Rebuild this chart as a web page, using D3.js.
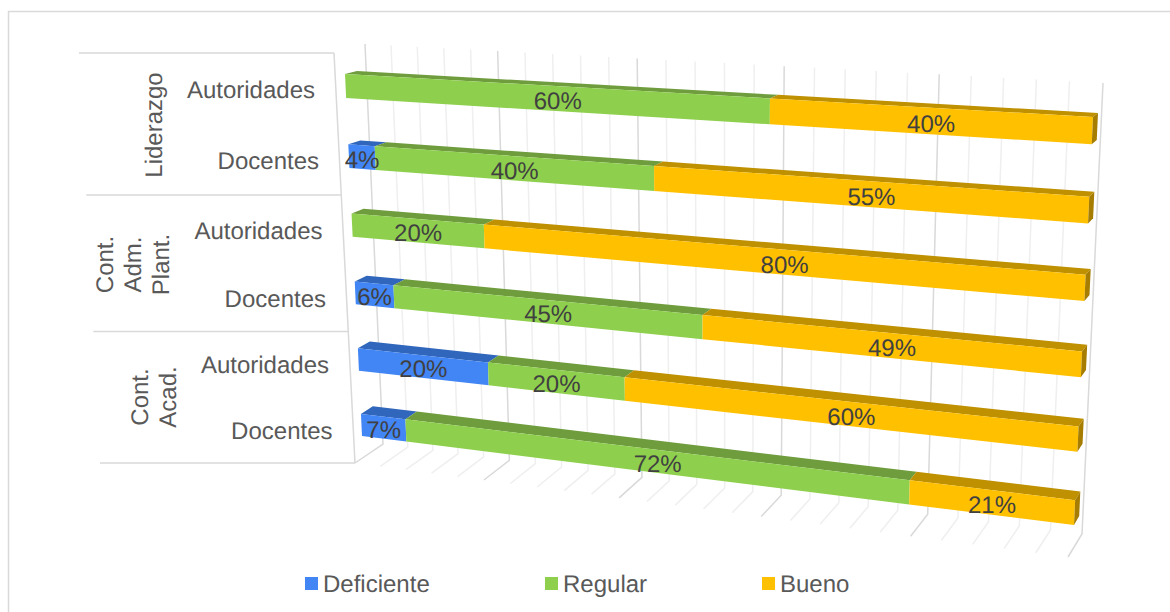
<!DOCTYPE html>
<html lang="es">
<head>
<meta charset="utf-8">
<title>Deficiente, Regular, Bueno</title>
<script src="https://cdnjs.cloudflare.com/ajax/libs/d3/7.8.5/d3.min.js"></script>
<style>
  html, body { margin: 0; padding: 0; background: #fff; }
  svg { display: block; }
  text { font-family: "Liberation Sans", Arial, sans-serif; text-rendering: geometricPrecision; }
</style>
</head>
<body>
<svg id="chart" width="1170" height="612"></svg>
<script>
// Survey results per group and respondent type, top row first.
const categories = ["Autoridades", "Docentes", "Autoridades", "Docentes", "Autoridades", "Docentes"];
const groups = [
  { lines: ["Liderazgo"], from: 0, to: 2 },
  { lines: ["Cont.", "Adm.", "Plant."], from: 2, to: 4 },
  { lines: ["Cont.", "Acad."], from: 4, to: 6 }
];
const seriesNames = ["Deficiente", "Regular", "Bueno"];
const deficiente = [0, 4, 0, 6, 20, 7];
const regular = [60, 40, 20, 45, 20, 72];
const bueno = [40, 55, 80, 49, 60, 21];
const axisTicks = [0, 4, 8, 12, 16, 20, 24, 28, 32, 36, 40, 44, 48, 52, 56, 60, 64, 68, 72, 76, 80, 84, 88, 92, 96, 100];
const majorTicks = [0, 20, 40, 60, 80, 100];

// Fill colours for the front, top and right-hand faces of each series.
const frontColor = ["#4285f4", "#8ed04d", "#ffc000"];
const topColor = ["#3066bb", "#6f9d3d", "#bf9000"];
const sideColor = ["#2b5ca8", "#648d36", "#a67d00"];
const gridMinor = "#efefef";
const gridMajor = "#d9d9d9";

// Projects the unit square (u along the value axis, v down the rows) onto a quad.
function quadProjection([x0, y0], [x1, y1], [x2, y2], [x3, y3]) {
  // Corners in order: u0v0, u1v0, u1v1, u0v1.
  const dx1 = x1 - x2, dx2 = x3 - x2, sx = x0 - x1 + x2 - x3;
  const dy1 = y1 - y2, dy2 = y3 - y2, sy = y0 - y1 + y2 - y3;
  const den = dx1 * dy2 - dx2 * dy1;
  const g = (sx * dy2 - dx2 * sy) / den;
  const h = (dx1 * sy - sx * dy1) / den;
  const a = x1 - x0 + g * x1, b = x3 - x0 + h * x3, c = x0;
  const d = y1 - y0 + g * y1, e = y3 - y0 + h * y3, f = y0;
  return (u, v) => {
    const w = g * u + h * v + 1;
    return [(a * u + b * v + c) / w, (d * u + e * v + f) / w];
  };
}

const frontPlane = quadProjection([345, 74], [1093, 117], [1074, 525], [362, 436]);
const backWall = quadProjection([365, 44], [1103, 83], [1082, 534], [383, 444]);
// The floor's near edge shares the wall's foreshortening along the value axis.
const floorFront = u => {
  const s = (backWall(u, 1)[0] - 383) / (1082 - 383);
  return [355 + (1068 - 355) * s, 463 + (557 - 463) * s];
};

const rowIndex = d3.range(categories.length);
const xScale = d3.scaleLinear().domain([0, 1]).range([0, 1]);
const tickScale = d3.scaleLinear().domain([0, 100]).range([0, 1]);
const rowScale = d3.scaleBand().domain(rowIndex).range([0, 1]).paddingInner(0.66).paddingOuter(0);

// Each row is stacked to a full 100% width.
const table = rowIndex.map(i => ({ Deficiente: deficiente[i], Regular: regular[i], Bueno: bueno[i] }));
const stacked = d3.stack().keys(seriesNames).offset(d3.stackOffsetExpand)(table);

const svg = d3.select("#chart");

// Chart frame: only its top and left edges fall inside the page.
svg.append("path")
  .attr("d", "M8.5,612V11.5H1170")
  .attr("fill", "none").attr("stroke", gridMajor).attr("stroke-width", 1.5);

// Wall and floor gridlines.
const pathLine = d3.line();
const gridLayer = svg.append("g");
gridLayer.selectAll("path")
  .data(axisTicks.slice().sort((a, b) => majorTicks.includes(a) - majorTicks.includes(b)))
  .join("path")
  .attr("d", t => {
    const u = tickScale(t);
    return pathLine([backWall(u, 0), backWall(u, 1), floorFront(u)]);
  })
  .attr("fill", "none")
  .attr("stroke", t => majorTicks.includes(t) ? gridMajor : gridMinor)
  .attr("stroke-width", 1.5);

// Depth of a bar: the offset from its front face to its back edge.
function depth(u, v) {
  const sx = frontPlane(u, v)[0];
  const along = (sx - 345) / (1093 - 345);
  return [12 - 7 * along, -3 - 5 * v - along];
}
const back = (u, v) => {
  const p = frontPlane(u, v), o = depth(u, v);
  return [p[0] + o[0], p[1] + o[1]];
};
const polygon = pts => pathLine(pts) + "Z";

// Bars, each row built from top, front and closing side faces.
const barLayer = svg.append("g");
const labels = [];
rowIndex.forEach(row => {
  const v0 = rowScale(row), v1 = v0 + rowScale.bandwidth();
  const rowG = barLayer.append("g");
  stacked.forEach((layer, s) => {
    const [a, b] = layer[row];
    if (b - a <= 0) return;
    const u0 = xScale(a), u1 = xScale(b);
    rowG.append("path")
      .attr("d", polygon([frontPlane(u0, v0), frontPlane(u1, v0), back(u1, v0), back(u0, v0)]))
      .attr("fill", topColor[s]);
    rowG.append("path")
      .attr("d", polygon([frontPlane(u0, v0), frontPlane(u1, v0), frontPlane(u1, v1), frontPlane(u0, v1)]))
      .attr("fill", frontColor[s]);
    if (b >= 1) {
      rowG.append("path")
        .attr("d", polygon([frontPlane(u1, v0), back(u1, v0), back(u1, v1), frontPlane(u1, v1)]))
        .attr("fill", sideColor[s]);
    }
    const corners = [frontPlane(u0, v0), frontPlane(u1, v0), frontPlane(u1, v1), frontPlane(u0, v1)];
    labels.push({
      x: d3.mean(corners, p => p[0]),
      y: d3.mean(corners, p => p[1]),
      value: table[row][seriesNames[s]]
    });
  });
});

// Percentage labels, centred on their front faces.
svg.append("g").selectAll("text")
  .data(labels)
  .join("text")
  .attr("x", d => d.x)
  .attr("y", d => d.y + 10.5)
  .attr("text-anchor", "middle")
  .attr("font-size", 24)
  .attr("fill", "#404040")
  .text(d => d.value + "%");

// Category axis: slanted spine, group separators and multi-level labels.
const axisTop = [334, 53], axisBottom = [355, 463];
const separatorY = d3.scaleLinear().domain([0, 2, 4, 6]).range([53, 195, 331.5, 463]);
const spineX = y => axisTop[0] + (axisBottom[0] - axisTop[0]) * (y - axisTop[1]) / (axisBottom[1] - axisTop[1]);
const axisLayer = svg.append("g");
axisLayer.append("path")
  .attr("d", pathLine([axisTop, axisBottom]))
  .attr("fill", "none").attr("stroke", gridMajor).attr("stroke-width", 1.5);
[0, 2, 4, 6].forEach(i => {
  const y = separatorY(i), x = spineX(y);
  axisLayer.append("path")
    .attr("d", pathLine([[x - 255, y], [x, y]]))
    .attr("fill", "none").attr("stroke", gridMajor).attr("stroke-width", 1.5);
});

const rowBaseline = [97.6, 169, 238.5, 306.5, 373, 438.5];
const rowLabelEnd = [315, 319, 322.5, 326, 329, 332.5];
axisLayer.selectAll("text.cat")
  .data(categories)
  .join("text")
  .attr("class", "cat")
  .attr("x", (d, i) => rowLabelEnd[i])
  .attr("y", (d, i) => rowBaseline[i])
  .attr("text-anchor", "end")
  .attr("font-size", 24)
  .attr("fill", "#595959")
  .text(d => d);

// Rotated group labels, one column per line of text.
const groupBaselineX = [162, 169, 176];
const groupCentreY = [125, 264.5, 397];
const groupLineGap = 28;
groups.forEach((g, gi) => {
  g.lines.forEach((line, li) => {
    const x = groupBaselineX[gi] - (g.lines.length - 1 - li) * groupLineGap;
    axisLayer.append("text")
      .attr("transform", `translate(${x},${groupCentreY[gi]}) rotate(-90)`)
      .attr("text-anchor", "middle")
      .attr("font-size", 24)
      .attr("fill", "#595959")
      .text(line);
  });
});

// Legend along the bottom edge.
const legendSwatchX = d3.scaleOrdinal().domain(seriesNames).range([305, 545, 762]);
const legend = svg.append("g").selectAll("g")
  .data(seriesNames)
  .join("g")
  .attr("transform", d => `translate(${legendSwatchX(d)},577)`);
legend.append("rect")
  .attr("width", 13).attr("height", 13)
  .attr("fill", (d, i) => frontColor[i]);
legend.append("text")
  .attr("x", 18).attr("y", 15)
  .attr("font-size", 24)
  .attr("fill", "#595959")
  .text(d => d);
</script>
</body>
</html>
